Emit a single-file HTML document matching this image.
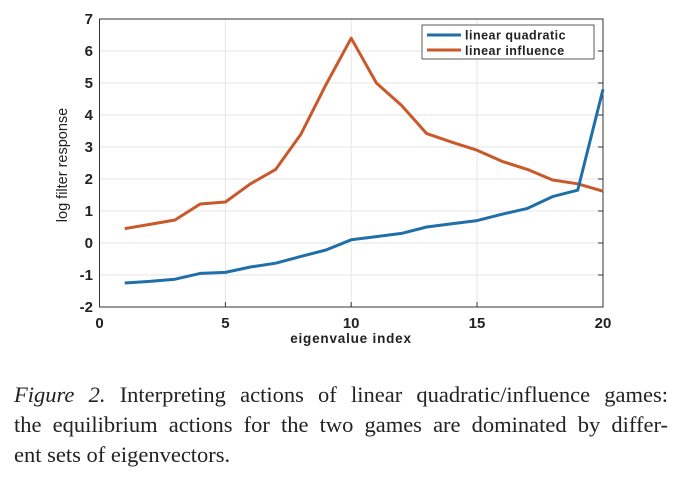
<!DOCTYPE html><html><head><style>body{margin:0;background:#fff;width:684px;height:480px;overflow:hidden;position:relative}
.cap{position:absolute;left:14px;top:380px;width:654px;font-family:"Liberation Serif",serif;font-size:22.5px;line-height:30px;color:#222}
.cap div{text-align:justify;text-align-last:justify;white-space:nowrap}
.cap div.l{text-align-last:left}
</style></head><body>
<svg width="684" height="360" style="position:absolute;left:0;top:0" font-family="Liberation Sans, sans-serif">
<g stroke="#e6e6e6" stroke-width="1">
<line x1="225.4" y1="19" x2="225.4" y2="307"/><line x1="351.2" y1="19" x2="351.2" y2="307"/><line x1="477" y1="19" x2="477" y2="307"/>
<line x1="99.5" y1="51" x2="603" y2="51"/><line x1="99.5" y1="83" x2="603" y2="83"/><line x1="99.5" y1="115" x2="603" y2="115"/><line x1="99.5" y1="147" x2="603" y2="147"/><line x1="99.5" y1="179" x2="603" y2="179"/><line x1="99.5" y1="211" x2="603" y2="211"/><line x1="99.5" y1="243" x2="603" y2="243"/><line x1="99.5" y1="275" x2="603" y2="275"/>
</g>
<rect x="99.5" y="19" width="503.5" height="288" fill="none" stroke="#333" stroke-width="1"/>
<g stroke="#333"><line x1="225.4" y1="307" x2="225.4" y2="302"/><line x1="351.2" y1="307" x2="351.2" y2="302"/><line x1="477" y1="307" x2="477" y2="302"/>
<line x1="603" y1="51" x2="598" y2="51"/><line x1="603" y1="83" x2="598" y2="83"/><line x1="603" y1="115" x2="598" y2="115"/><line x1="603" y1="147" x2="598" y2="147"/><line x1="603" y1="179" x2="598" y2="179"/><line x1="603" y1="211" x2="598" y2="211"/><line x1="603" y1="243" x2="598" y2="243"/><line x1="603" y1="275" x2="598" y2="275"/></g>
<polyline fill="none" stroke="#C9592A" stroke-width="3" stroke-linejoin="round" points="124.7,228.6 149.8,224.4 175,220 200.2,204 225.4,202 250.5,183.8 275.7,169.4 300.9,134.2 326,84.6 351.2,38.2 376.4,83 401.5,105.4 426.7,133.6 451.9,142.2 477,150.2 502.2,161.4 527.4,169.4 552.6,180 577.7,183.8 603,191.2"/>
<polyline fill="none" stroke="#1F6FA8" stroke-width="3" stroke-linejoin="round" points="124.7,283 149.8,281.4 175,279.2 200.2,273.4 225.4,272.4 250.5,267 275.7,263.2 300.9,256.4 326,250 351.2,239.8 376.4,236.6 401.5,233.4 426.7,227 451.9,223.8 477,220.6 502.2,214.2 527.4,208.4 552.6,196.6 577.7,190.2 603,89.4"/>
<g font-size="15" font-weight="bold" fill="#222" text-anchor="end">
<text x="93" y="24">7</text><text x="93" y="56">6</text><text x="93" y="88">5</text><text x="93" y="120">4</text><text x="93" y="152">3</text><text x="93" y="184">2</text><text x="93" y="216">1</text><text x="93" y="248">0</text><text x="93" y="280">-1</text><text x="93" y="312">-2</text></g>
<g font-size="15" font-weight="bold" fill="#222" text-anchor="middle">
<text x="99.5" y="328">0</text><text x="225.4" y="328">5</text><text x="351.2" y="328">10</text><text x="477" y="328">15</text><text x="603" y="328">20</text>
<text x="351" y="343" font-size="13.5" letter-spacing="0.8">eigenvalue index</text></g>
<text transform="translate(67,165) rotate(-90)" text-anchor="middle" font-size="14.5" fill="#222">log filter response</text>
<rect x="422" y="25" width="172" height="34" fill="#fff" stroke="#333" stroke-width="0.8"/>
<line x1="427" y1="35" x2="461" y2="35" stroke="#1F6FA8" stroke-width="3"/>
<line x1="427" y1="50" x2="461" y2="50" stroke="#C9592A" stroke-width="3"/>
<g font-size="12.5" font-weight="bold" fill="#222" letter-spacing="0.5"><text x="465" y="39.5">linear quadratic</text><text x="465" y="55">linear influence</text></g>
</svg>
<div class="cap"><div><i>Figure 2.</i> Interpreting actions of linear quadratic/influence games:</div><div>the equilibrium actions for the two games are dominated by differ-</div><div class="l">ent sets of eigenvectors.</div></div>
</body></html>
